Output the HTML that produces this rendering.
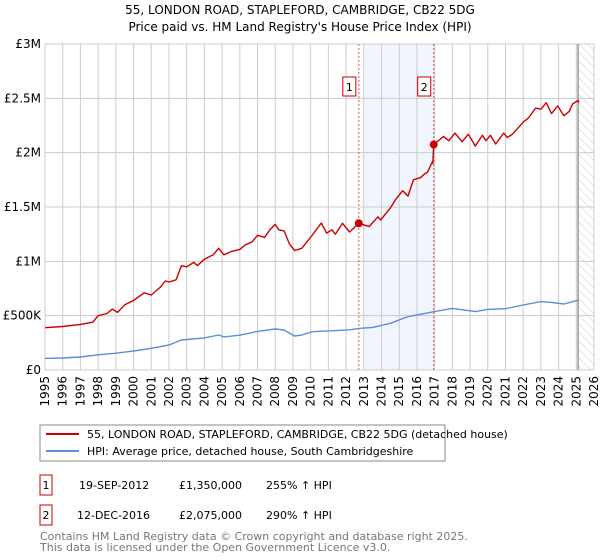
<!DOCTYPE html>
<html><head><meta charset="utf-8"><style>
body{margin:0;background:#fff;font-family:"Liberation Sans","DejaVu Sans",sans-serif;}
#wrap{position:relative;width:600px;height:560px;overflow:hidden;}
svg text{font-family:"DejaVu Sans","Liberation Sans",sans-serif;}
</style></head><body>
<div id="wrap">
<svg id="chart" width="600" height="560" xmlns="http://www.w3.org/2000/svg">
<defs><pattern id="hatch" width="6" height="6" patternUnits="userSpaceOnUse" patternTransform="rotate(-45)"><line x1="0" y1="0" x2="0" y2="6" stroke="#ccc" stroke-width="1"/></pattern></defs>
<text x="300" y="14" text-anchor="middle" font-size="12" fill="#000">55, LONDON ROAD, STAPLEFORD, CAMBRIDGE, CB22 5DG</text>
<text x="300" y="31" text-anchor="middle" font-size="12" fill="#000">Price paid vs. HM Land Registry's House Price Index (HPI)</text>
<g id="grid"></g><g id="marks"></g><g id="axes"></g>
<rect x="40" y="425" width="405" height="36" fill="#fff" stroke="#888"/>
<line x1="46" y1="434" x2="79" y2="434" stroke="#cc0000" stroke-width="2"/>
<text x="87" y="438" font-size="11">55, LONDON ROAD, STAPLEFORD, CAMBRIDGE, CB22 5DG (detached house)</text>
<line x1="46" y1="451" x2="79" y2="451" stroke="#5b8fd6" stroke-width="2"/>
<text x="87" y="455" font-size="11">HPI: Average price, detached house, South Cambridgeshire</text>
<g font-size="11">
<rect x="40" y="475" width="12" height="20" fill="#fff" stroke="#cc0000"/>
<text x="46" y="489" text-anchor="middle">1</text>
<text x="79" y="489">19-SEP-2012</text><text x="179" y="489">£1,350,000</text><text x="266" y="489">255% ↑ HPI</text>
<rect x="40" y="505" width="12" height="20" fill="#fff" stroke="#cc0000"/>
<text x="46" y="519" text-anchor="middle">2</text>
<text x="77" y="519">12-DEC-2016</text><text x="179" y="519">£2,075,000</text><text x="266" y="519">290% ↑ HPI</text>
</g>
<text x="40" y="540" font-size="11" fill="#777">Contains HM Land Registry data © Crown copyright and database right 2025.</text>
<text x="40" y="551" font-size="11" fill="#777">This data is licensed under the Open Government Licence v3.0.</text>
</svg>
</div>
<script>
const priceYears=[1995,1996,1997,1997.7,1998,1998.5,1998.8,1999.1,1999.5,2000,2000.6,2001,2001.5,2001.8,2002,2002.4,2002.7,2003,2003.4,2003.6,2004,2004.5,2004.8,2005.1,2005.5,2006,2006.3,2006.7,2007,2007.4,2007.7,2008,2008.2,2008.5,2008.8,2009.1,2009.5,2010.1,2010.6,2010.9,2011.2,2011.4,2011.8,2012.2,2012.72,2013.3,2013.8,2013.95,2014.5,2014.8,2015.2,2015.5,2015.8,2016.2,2016.4,2016.6,2016.85,2016.9,2016.95,2017.5,2017.8,2018.15,2018.55,2018.9,2019.3,2019.7,2019.9,2020.15,2020.45,2020.9,2021.1,2021.4,2022.0,2022.3,2022.7,2023.0,2023.3,2023.6,2023.95,2024.3,2024.6,2024.8,2025.1,2025.15];
const priceValues=[389,400,420,440,500,520,560,530,600,640,710,690,760,820,810,830,960,950,990,960,1020,1060,1120,1060,1090,1110,1150,1180,1240,1220,1290,1340,1290,1280,1160,1100,1120,1242,1353,1260,1290,1250,1350,1270,1350,1320,1410,1380,1490,1570,1650,1600,1750,1770,1800,1820,1910,1900,2075,2150,2110,2180,2100,2170,2060,2160,2110,2160,2080,2180,2140,2170,2280,2320,2410,2400,2460,2360,2430,2340,2380,2450,2480,2460];
const hpiYears=[1995,1996,1997,1998,1999,2000,2001,2002,2002.7,2004,2004.8,2005.1,2006,2007,2008,2008.5,2009.1,2009.5,2010.1,2011,2012.2,2012.72,2013.5,2014.5,2015.5,2016,2017,2018,2019.3,2020,2021,2022,2023,2023.6,2024.3,2025,2025.15];
const hpiValues=[107,110,120,140,155,175,200,230,276,295,322,305,320,355,377,368,313,322,352,360,370,383,392,430,491,506,537,567,537,558,564,598,629,622,607,638,638];
const saleYears=[2012.72,2016.95];
const saleValues=[1350,2075];
const saleLabels=["1","2"];
const yTicks=[0,500,1000,1500,2000,2500,3000];
const yTickLabels=["£0","£500K","£1M","£1.5M","£2M","£2.5M","£3M"];
const xTicks=[1995,1996,1997,1998,1999,2000,2001,2002,2003,2004,2005,2006,2007,2008,2009,2010,2011,2012,2013,2014,2015,2016,2017,2018,2019,2020,2021,2022,2023,2024,2025,2026];

const X0=45,X1=594,Y0=370,Y1=44;
const xs=y=>X0+(y-1995)/(2026-1995)*(X1-X0);
const ys=v=>Y0-v/3000*(Y0-Y1);
const NS="http://www.w3.org/2000/svg";
function mk(tag,attrs,parent){const e=document.createElementNS(NS,tag);for(const k in attrs)e.setAttribute(k,attrs[k]);parent.appendChild(e);return e;}
const grid=document.getElementById('grid'),marks=document.getElementById('marks'),axes=document.getElementById('axes');
let r=mk('rect',{x:xs(2013.05),y:Y1,width:xs(2016.95)-xs(2013.05),height:Y0-Y1,fill:'#eef3fc',opacity:0.8},grid);


let h=mk('rect',{x:xs(2025.1),y:Y1,width:X1-xs(2025.1),height:Y0-Y1,fill:'url(#hatch)'},grid);


xTicks.forEach((t,i)=>{
  let l=mk('line',{x1:xs(t),x2:xs(t),y1:Y1,y2:Y0,stroke:'#ccc','stroke-width':1},grid);
  
  
  let tx=mk('text',{x:0,y:0,'font-size':12,'text-anchor':'end',transform:`translate(${xs(t)+4},${Y0+6}) rotate(-90)`},axes);
  tx.textContent=t;
  
  
});
yTicks.forEach((t,i)=>{
  let l=mk('line',{x1:X0,x2:X1,y1:ys(t),y2:ys(t),stroke:'#ccc','stroke-width':1},grid);
  
  
  let tx=mk('text',{x:X0-4,y:ys(t)+4,'font-size':12,'text-anchor':'end'},axes);
  tx.textContent=yTickLabels[i];
  
  
});
let vl=mk('line',{x1:xs(2025.1),x2:xs(2025.1),y1:Y1,y2:Y0,stroke:'#999','stroke-width':1.5},grid);


saleYears.forEach((y,i)=>{
  let l=mk('line',{x1:xs(y),x2:xs(y),y1:Y1,y2:Y0,stroke:'#e05050','stroke-width':1,'stroke-dasharray':'2,2'},grid);
  
  
  let b=mk('rect',{x:xs(y)-16,y:77,width:13,height:19,fill:'#fff',stroke:'#cc0000'},axes);
  
  
  let t=mk('text',{x:xs(y)-9.5,y:91,'font-size':11,'text-anchor':'middle'},axes);
  t.textContent=saleLabels[i];
  
  
});
function path(xsA,vs,color,name){
  let d=xsA.map((y,i)=>(i?'L':'M')+xs(y).toFixed(1)+','+ys(vs[i]).toFixed(1)).join('');
  let p=mk('path',{d:d,fill:'none',stroke:color,'stroke-width':1.4,'stroke-linejoin':'round'},marks);
  
  
}
path(hpiYears,hpiValues,'#5b8fd6','hpi-line');
path(priceYears,priceValues,'#cc0000','price-line');
saleYears.forEach((y,i)=>{
  let c=mk('circle',{cx:xs(y),cy:ys(saleValues[i]),r:4,fill:'#cc0000'},marks);
  
  
});
</script>
</body></html>
